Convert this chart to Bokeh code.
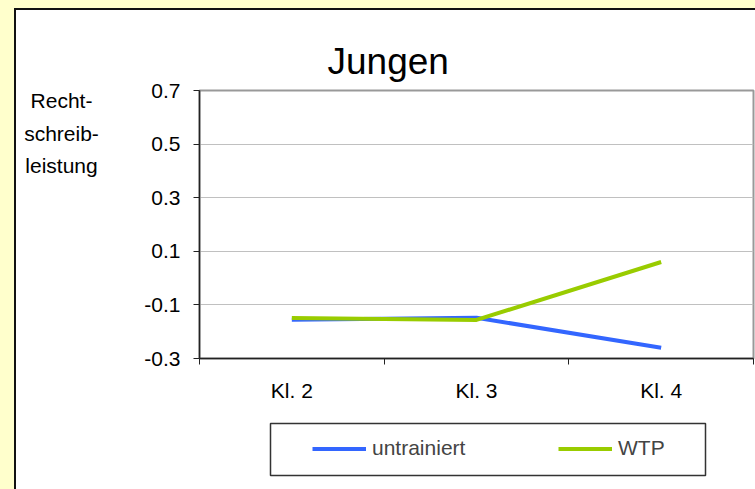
from bokeh.plotting import figure
from bokeh.embed import file_html
from bokeh.resources import INLINE
from bokeh.models import FixedTicker, Legend, LegendItem
from bokeh.core.properties import value
from bokeh.layouts import column, row

categories = ["Kl. 2", "Kl. 3", "Kl. 4"]
untrainiert = [-0.155, -0.148, -0.260]
wtp = [-0.149, -0.156, 0.060]
y_ticks = [-0.3, -0.1, 0.1, 0.3, 0.5, 0.7]
y_tick_labels = ["-0.3", "-0.1", "0.1", "0.3", "0.5", "0.7"]
title_text = "Jungen"
y_label_lines = ["Recht-", "schreib-", "leistung"]
series_names = ["untrainiert", "WTP"]

FONT = "Liberation Sans"
BLUE = "#3366FF"
GREEN = "#99CC00"
colors = [BLUE, GREEN]
series = [untrainiert, wtp]

xs = [i + 0.5 for i in range(len(categories))]

TOP, BOTTOM, H = 80, 47, 395

# ---- main chart ----
p = figure(width=635, height=H, x_range=(0, len(categories)), y_range=(y_ticks[0], y_ticks[-1]),
           output_backend="svg", toolbar_location=None,
           min_border_left=79, min_border_right=2, min_border_top=TOP, min_border_bottom=BOTTOM,
           background_fill_color="white", border_fill_color="white")

p.title.text = title_text
p.title.text_font = FONT
p.title.text_font_size = "37px"
p.title.text_font_style = "normal"
p.title.text_color = "black"
p.title.align = "left"
p.title.offset = 128
p.title.standoff = 17

p.outline_line_color = "#999999"
p.outline_line_width = 2

p.yaxis.ticker = FixedTicker(ticks=y_ticks)
p.yaxis.major_label_overrides = {t: l for t, l in zip(y_ticks, y_tick_labels)}
p.yaxis.major_tick_out = 6
p.yaxis.major_tick_in = 0
p.yaxis.minor_tick_out = 0
p.yaxis.minor_tick_in = 0
p.yaxis.axis_line_color = "#222222"
p.yaxis.axis_line_width = 1.5
p.yaxis.major_tick_line_color = "#222222"
p.yaxis.major_label_text_font = FONT
p.yaxis.major_label_text_font_size = "21px"
p.yaxis.major_label_text_color = "black"
p.yaxis.major_label_standoff = 13

p.xaxis.ticker = FixedTicker(ticks=xs, minor_ticks=list(range(len(categories) + 1)))
p.xaxis.major_label_overrides = {x: c for x, c in zip(xs, categories)}
p.xaxis.major_tick_out = 0
p.xaxis.major_tick_in = 0
p.xaxis.minor_tick_out = 6
p.xaxis.minor_tick_in = 0
p.xaxis.minor_tick_line_color = "#222222"
p.xaxis.axis_line_color = "#222222"
p.xaxis.axis_line_width = 1.5
p.xaxis.major_label_text_font = FONT
p.xaxis.major_label_text_font_size = "21px"
p.xaxis.major_label_text_color = "black"
p.xaxis.major_label_standoff = 14

p.xgrid.grid_line_color = None
p.ygrid.ticker = FixedTicker(ticks=y_ticks[1:-1])
p.ygrid.grid_line_color = "#C0C0C0"
p.ygrid.grid_line_width = 1

for vals, col in zip(series, colors):
    p.line(xs, vals, line_color=col, line_width=4)

# ---- y label panel (frame aligned with main frame; y in canvas pixels from top) ----
yl = figure(width=104, height=H, x_range=(0, 104), y_range=(H - BOTTOM, TOP),
            output_backend="svg", toolbar_location=None,
            min_border_left=0, min_border_right=0, min_border_top=TOP, min_border_bottom=BOTTOM,
            background_fill_color="white", border_fill_color="white")
yl.axis.visible = False
yl.grid.visible = False
yl.outline_line_color = None
yl.text(x=[45] * len(y_label_lines), y=[90, 123, 155], text=y_label_lines,
        text_align="center", text_baseline="middle",
        text_font=value(FONT), text_font_size="21px", text_color="black")

# ---- legend panel ----
lg = figure(width=739, height=84, x_range=(-10, -9), y_range=(-10, -9),
            output_backend="svg", toolbar_location=None,
            min_border_left=254, min_border_right=50, min_border_top=18, min_border_bottom=14,
            background_fill_color="white", border_fill_color="white")
lg.axis.visible = False
lg.grid.visible = False
lg.outline_line_color = "#333333"
lg.outline_line_width = 1.5
items = []
for name, vals, col in zip(series_names, series, colors):
    r = lg.line(xs, vals, line_color=col, line_width=4)
    items.append(LegendItem(label=name, renderers=[r]))
legend = Legend(items=items, orientation="horizontal", location=(42, 15),
                padding=0, margin=0, spacing=83, label_width=103,
                glyph_width=54, glyph_height=21, label_height=21, label_standoff=6,
                label_text_font=FONT, label_text_font_size="21px",
                border_line_color=None, background_fill_alpha=0)
lg.add_layout(legend, "center")

inner = column(row(yl, p), lg, margin=(8, 0, 0, 14),
               styles={"background-color": "white", "border-top": "2px solid #111",
                       "border-left": "2px solid #111"})
layout = column(inner, width=755, height=489, styles={"background-color": "#FFFFCC"})
open("out.html", "w").write(file_html(layout, INLINE))
